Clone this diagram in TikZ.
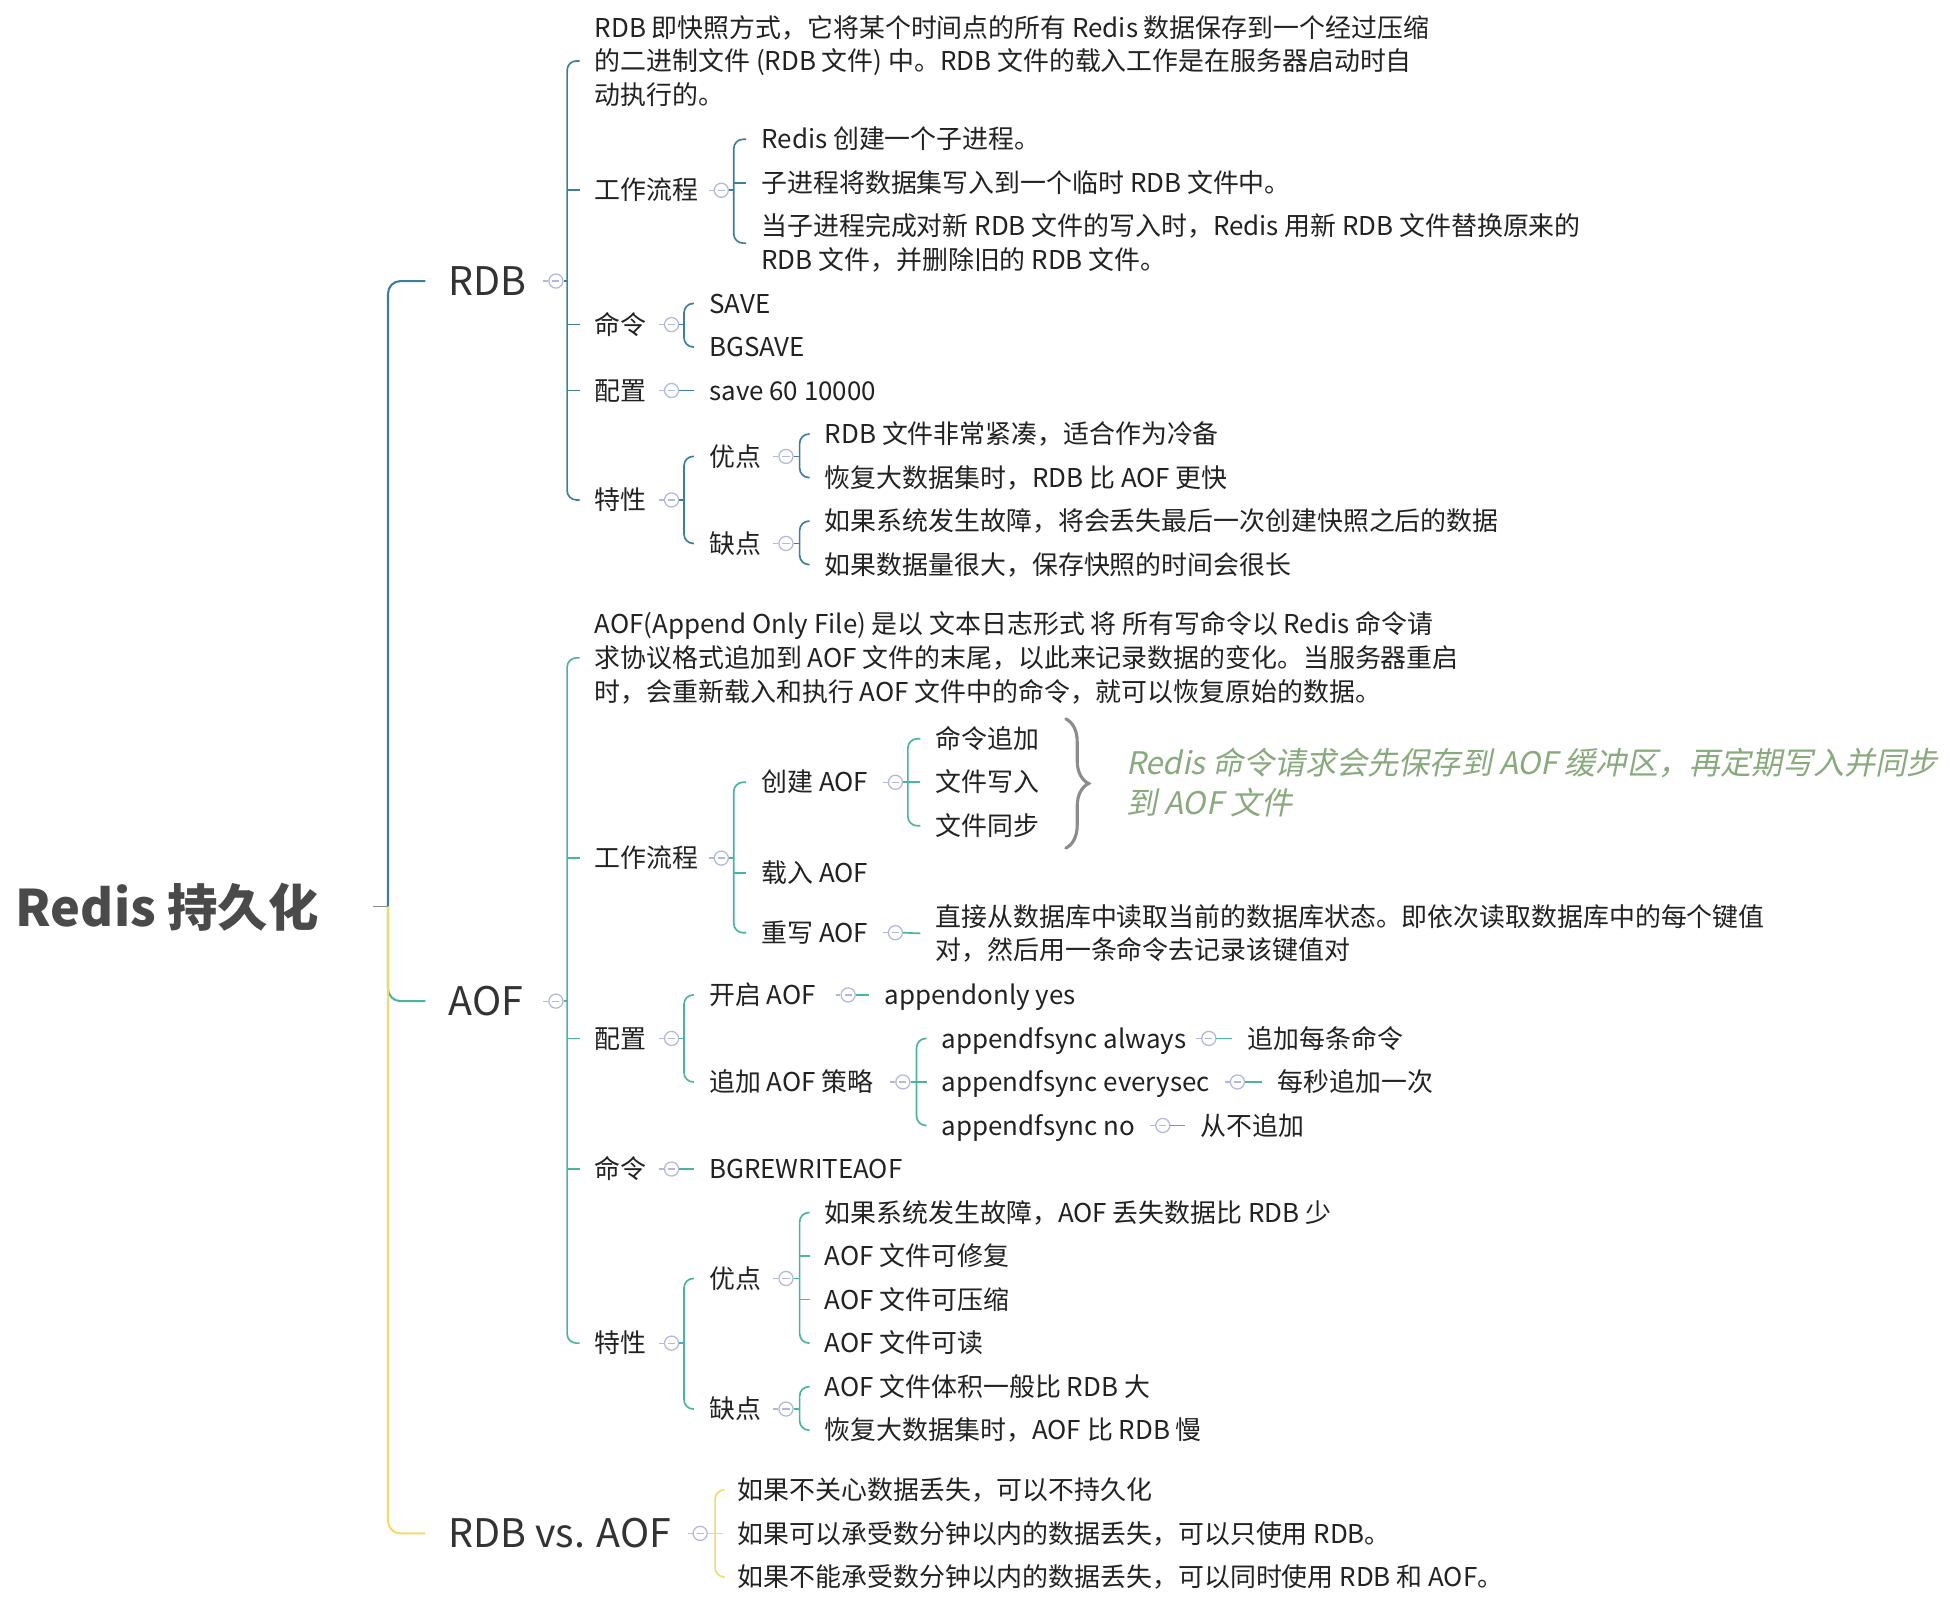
\documentclass[tikz,border=0pt]{standalone}
\usepackage{fontspec}
\setmainfont{Noto Sans CJK SC}
\newfontfamily\notefont[FakeSlant=0.2]{Noto Sans CJK SC}
\usetikzlibrary{decorations.pathreplacing}
\definecolor{cR}{HTML}{3F7E98}
\definecolor{cA}{HTML}{4AB59F}
\definecolor{cV}{HTML}{F3DA6E}
\definecolor{cG}{HTML}{8C8C8C}
\definecolor{iconc}{HTML}{B3B7DD}
\definecolor{txt}{HTML}{222222}
\definecolor{lvl}{HTML}{333333}
\definecolor{rootc}{HTML}{4A4A4A}
\definecolor{notec}{HTML}{88AA7C}
\newcommand\fanout[5]{%
  \draw[#1,rc] (#4.west) -- (#4.west -| #2) -- (#5.west -| #2) -- (#5.west);
  \draw[#1] (#3.east) -- (#2);}
\newcommand\midtk[3]{\draw[#1] (#3.west -| #2) -- (#3.west);}
\newcommand\icn[2]{\node[icon] (#1) at (#2) {};\draw[iconc, line width=0.6pt] (#1.west) -- ++(-4,0);}
\begin{document}
\begin{tikzpicture}[x=0.6pt,y=-0.6pt,
  line width=0.8pt,
  rc/.style={rounded corners=4.5pt},
  t/.style={anchor=west, inner xsep=7pt, inner ysep=0pt, text=txt,
    font=\fontsize{12.5}{16.2}\selectfont, text height=10.9pt, text depth=1.6pt},
  tm/.style={anchor=west, inner xsep=7pt, inner ysep=0pt, text=txt, align=left,
    font=\fontsize{12.5}{16.2}\selectfont},
  l1/.style={anchor=west, inner xsep=10.8pt, inner ysep=0pt, text=lvl,
    font=\fontsize{19}{23}\selectfont, text height=16.5pt, text depth=2.5pt},
  rootn/.style={anchor=west, inner sep=0pt, text=rootc,
    font=\bfseries\fontsize{24.3}{29}\selectfont, text height=21.1pt, text depth=3.2pt},
  icon/.style={circle, draw=iconc, fill=white, minimum size=6.8pt, inner sep=0pt,
    line width=0.6pt,
    path picture={\draw[iconc, line width=0.6pt]
      ([xshift=-1.7pt]path picture bounding box.center) --
      ([xshift=1.7pt]path picture bounding box.center);}},
  note/.style={anchor=west, inner sep=0pt, align=left, text=notec,
    font=\notefont\fontsize{15}{19.2}\selectfont}
]
\fill[white] (0,0) rectangle (1568,1288);
\useasboundingbox (0,0) rectangle (1568,1288);

% ---------- root ----------
\node[rootn] (root) at (12,730) {Redis 持久化};
\coordinate (rt) at (300,729);
\coordinate (J) at (312,729);

% ---------- level 1 ----------
\node[l1] (rdb) at (342,226) {RDB};
\node[l1] (aof) at (342,805) {AOF};
\node[l1] (vs) at (342,1233) {RDB vs. AOF};

\draw[cG] (rt) -- (J);
\draw[cR, line width=1pt, rounded corners=6pt] (J) |- (rdb.west);
\draw[cA, line width=1pt, rounded corners=6pt] (J) |- (aof.west);
\draw[cV, line width=1pt, rounded corners=6pt] (J) |- (vs.west);

% ---------- RDB ----------
\icn{irdb}{447,226}
\coordinate (bR) at (456,226);
\node[tm] (r1) at (466,49) {RDB 即快照方式，它将某个时间点的所有 Redis 数据保存到一个经过压缩\\的二进制文件 (RDB 文件) 中。RDB 文件的载入工作是在服务器启动时自\\动执行的。};
\node[t] (r2) at (466,153) {工作流程};
\node[t] (r3) at (466,261) {命令};
\node[t] (r4) at (466,314) {配置};
\node[t] (r5) at (466,402) {特性};
\fanout{cR}{bR}{irdb}{r1}{r5}
\midtk{cR}{bR}{r2}
\midtk{cR}{bR}{r3}
\midtk{cR}{bR}{r4}

\icn{ir2}{580,153}
\coordinate (bR2) at (590,153);
\node[t] (r2a) at (600,112) {Redis 创建一个子进程。};
\node[t] (r2b) at (600,147) {子进程将数据集写入到一个临时 RDB 文件中。};
\node[tm] (r2c) at (600,195.5) {当子进程完成对新 RDB 文件的写入时，Redis 用新 RDB 文件替换原来的\\RDB 文件，并删除旧的 RDB 文件。};
\fanout{cR}{bR2}{ir2}{r2a}{r2c}
\midtk{cR}{bR2}{r2b}

\icn{ir3}{540,261}
\coordinate (bR3) at (550,261);
\node[t] (r3a) at (558,244) {SAVE};
\node[t] (r3b) at (558,279) {BGSAVE};
\fanout{cR}{bR3}{ir3}{r3a}{r3b}

\icn{ir4}{540,314}
\node[t] (r4a) at (558,314) {save 60 10000};
\draw[cR] (ir4.east) -- (r4a.west);

\icn{ir5}{540,402}
\coordinate (bR5) at (550,402);
\node[t] (r5a) at (558,367) {优点};
\node[t] (r5b) at (558,437) {缺点};
\fanout{cR}{bR5}{ir5}{r5a}{r5b}

\icn{ir5a}{632,367}
\coordinate (bR5a) at (643,367);
\node[t] (r5a1) at (651,349) {RDB 文件非常紧凑，适合作为冷备};
\node[t] (r5a2) at (651,384) {恢复大数据集时，RDB 比 AOF 更快};
\fanout{cR}{bR5a}{ir5a}{r5a1}{r5a2}

\icn{ir5b}{632,437}
\coordinate (bR5b) at (643,437);
\node[t] (r5b1) at (651,419) {如果系统发生故障，将会丢失最后一次创建快照之后的数据};
\node[t] (r5b2) at (651,454) {如果数据量很大，保存快照的时间会很长};
\fanout{cR}{bR5b}{ir5b}{r5b1}{r5b2}

% ---------- AOF ----------
\icn{iaof}{447,805}
\coordinate (bA) at (456,805);
\node[tm] (a1) at (466,529) {AOF(Append Only File) 是以 文本日志形式 将 所有写命令以 Redis 命令请\\求协议格式追加到 AOF 文件的末尾，以此来记录数据的变化。当服务器重启\\时，会重新载入和执行 AOF 文件中的命令，就可以恢复原始的数据。};
\node[t] (a2) at (466,690) {工作流程};
\node[t] (a3) at (466,835) {配置};
\node[t] (a4) at (466,940) {命令};
\node[t] (a5) at (466,1080) {特性};
\fanout{cA}{bA}{iaof}{a1}{a5}
\midtk{cA}{bA}{a2}
\midtk{cA}{bA}{a3}
\midtk{cA}{bA}{a4}

\icn{ia2}{580,690}
\coordinate (bA2) at (590,690);
\node[t] (a2a) at (600,629) {创建 AOF};
\node[t] (a2b) at (600,702) {载入 AOF};
\node[t] (a2c) at (600,750) {重写 AOF};
\fanout{cA}{bA2}{ia2}{a2a}{a2c}
\midtk{cA}{bA2}{a2b}

\icn{ia2a}{720,629}
\coordinate (bA2a) at (730,629);
\node[t] (a2a1) at (740,594) {命令追加};
\node[t] (a2a2) at (740,629) {文件写入};
\node[t] (a2a3) at (740,664) {文件同步};
\fanout{cA}{bA2a}{ia2a}{a2a1}{a2a3}
\midtk{cA}{bA2a}{a2a2}

\coordinate (brt) at (857,578);
\coordinate (brb) at (857,682);
\draw[cG, line width=1.5pt, line cap=round, decorate, decoration={brace, amplitude=11pt, aspect=0.5}] (brt) -- (brb);
\node[note] (nt) at (905,629) {Redis 命令请求会先保存到 AOF 缓冲区，再定期写入并同步\\到 AOF 文件};

\icn{ia2c}{720,750}
\node[tm] (a2c1) at (740,750.5) {直接从数据库中读取当前的数据库状态。即依次读取数据库中的每个键值\\对，然后用一条命令去记录该键值对};
\draw[cA] (ia2c.east) -- (a2c1.west);

\icn{ia3}{540,835}
\coordinate (bA3) at (550,835);
\node[t] (a3a) at (558,800) {开启 AOF};
\node[t] (a3b) at (558,870) {追加 AOF 策略};
\fanout{cA}{bA3}{ia3}{a3a}{a3b}

\icn{ia3a}{682,800}
\node[t] (a3a1) at (699,800) {appendonly yes};
\draw[cA] (ia3a.east) -- (a3a1.west);

\icn{ia3b}{726,870}
\coordinate (bA3b) at (737,870);
\node[t] (a3b1) at (745,835) {appendfsync always};
\node[t] (a3b2) at (745,870) {appendfsync everysec};
\node[t] (a3b3) at (745,905) {appendfsync no};
\fanout{cA}{bA3b}{ia3b}{a3b1}{a3b3}
\midtk{cA}{bA3b}{a3b2}

\icn{ia3b1}{972,835}
\node[t] (a3b1x) at (991,835) {追加每条命令};
\draw[cA] (ia3b1.east) -- (a3b1x.west);
\icn{ia3b2}{995,870}
\node[t] (a3b2x) at (1015,870) {每秒追加一次};
\draw[cA] (ia3b2.east) -- (a3b2x.west);
\icn{ia3b3}{935,905}
\node[t] (a3b3x) at (953,905) {从不追加};
\draw[cA] (ia3b3.east) -- (a3b3x.west);

\icn{ia4}{540,940}
\node[t] (a4a) at (558,940) {BGREWRITEAOF};
\draw[cA] (ia4.east) -- (a4a.west);

\icn{ia5}{540,1080}
\coordinate (bA5) at (550,1080);
\node[t] (a5a) at (558,1028) {优点};
\node[t] (a5b) at (558,1133) {缺点};
\fanout{cA}{bA5}{ia5}{a5a}{a5b}

\icn{ia5a}{632,1028}
\coordinate (bA5a) at (643,1028);
\node[t] (a5a1) at (651,975) {如果系统发生故障，AOF 丢失数据比 RDB 少};
\node[t] (a5a2) at (651,1010) {AOF 文件可修复};
\node[t] (a5a3) at (651,1045) {AOF 文件可压缩};
\node[t] (a5a4) at (651,1080) {AOF 文件可读};
\fanout{cA}{bA5a}{ia5a}{a5a1}{a5a4}
\midtk{cA}{bA5a}{a5a2}
\midtk{cA}{bA5a}{a5a3}

\icn{ia5b}{632,1133}
\coordinate (bA5b) at (643,1133);
\node[t] (a5b1) at (651,1115) {AOF 文件体积一般比 RDB 大};
\node[t] (a5b2) at (651,1150) {恢复大数据集时，AOF 比 RDB 慢};
\fanout{cA}{bA5b}{ia5b}{a5b1}{a5b2}

% ---------- RDB vs. AOF ----------
\icn{ivs}{563,1233}
\coordinate (bV) at (575,1233);
\node[t] (v1) at (581,1198) {如果不关心数据丢失，可以不持久化};
\node[t] (v2) at (581,1233) {如果可以承受数分钟以内的数据丢失，可以只使用 RDB。};
\node[t] (v3) at (581,1268) {如果不能承受数分钟以内的数据丢失，可以同时使用 RDB 和 AOF。};
\fanout{cV}{bV}{ivs}{v1}{v3}
\midtk{cV}{bV}{v2}
\end{tikzpicture}
\end{document}
